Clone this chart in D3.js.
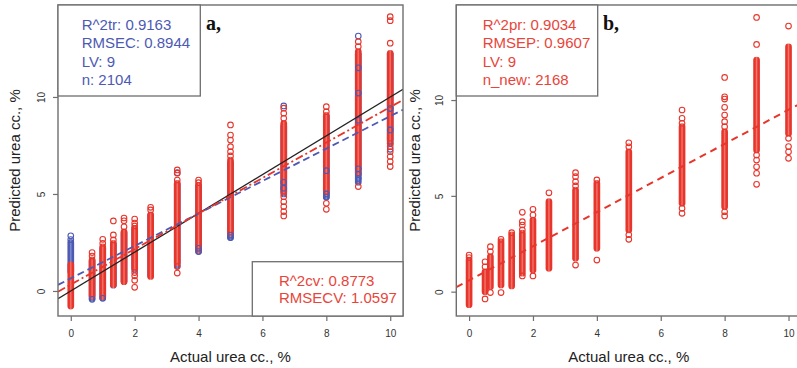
<!DOCTYPE html>
<html>
<head>
<meta charset="utf-8">
<script src="https://cdn.jsdelivr.net/npm/d3@7"></script>
<style>
  body { margin: 0; background: #fff; }
  svg { display: block; font-family: "Liberation Sans", Arial, sans-serif; }
</style>
</head>
<body>
<svg id="chart" width="797" height="368"></svg>
<script>
// actual urea concentrations of the sample groups (x positions of the columns)
const levelsA = [0, 0.667, 1, 1.333, 1.667, 2, 2.5, 3.333, 4, 5, 6.667, 8, 9, 10];
const levelsB = [0, 0.5, 0.667, 1, 1.333, 1.667, 2, 2.5, 3.333, 4, 5, 6.667, 8, 9, 10];

// panel a, cross-validated predictions (red): dense run of each column + single circles
const cvLo = [-0.78, -0.25, -0.28, 0.32, 0.48, 1.17, 0.75, 1.45, 2.12, 2.98, 5.12, 5.05, 6.08, 7.8];
const cvHi = [1.35, 1.6, 2.28, 2.46, 3.05, 3.22, 3.92, 5.55, 5.45, 6.75, 8.64, 9.05, 12.34, 12.25];
const cvPts = [
  [],
  [1.98, 1.8],
  [2.66, 2.46],
  [3.61, 2.89, 2.63],
  [3.76, 3.62, 3.31],
  [3.71, 3.5, 3.35, 0.95, 0.78, 0.55, 0.19],
  [4.31, 4.18],
  [6.24, 6.07, 5.72, 1.26, 0.92],
  [5.72, 5.58],
  [8.56, 8.04, 7.78, 7.44, 7.18, 6.96],
  [9.42, 9.16, 8.9, 4.86, 4.6, 4.35, 4.09, 3.87],
  [9.5, 9.24, 4.52, 4.21],
  [12.85, 12.6, 5.38],
  [14.14, 13.93, 12.77, 7.6, 7.44, 7.18, 6.93, 6.67, 6.41]
];

// panel a, calibration fit (blue)
const calLo = [1.0, -0.38, -0.35, 0.3, 0.5, 1.1, 0.8, 1.3, 2.05, 2.75, 5.0, 4.85, 5.6, 7.6];
const calHi = [2.5, 1.55, 2.2, 2.4, 3.0, 3.2, 3.9, 5.5, 5.4, 6.6, 8.5, 9.0, 12.2, 12.2];
const calPts = [
  [2.84, 2.65],
  [-0.43],
  [-0.38],
  [],
  [],
  [],
  [],
  [6.1],
  [2.03, 2.2],
  [2.75, 2.88],
  [9.54, 5.6, 5.3],
  [5.0, 4.85, 6.2],
  [13.14, 11.5, 10.2, 8.8, 6.3, 6.0, 5.8],
  [9.4, 8.3, 7.3]
];

// panel b, predictions of the new samples (red)
const testLo = [-0.68, 0.0, 0.26, 0.35, 0.3, 0.96, 1.13, 1.22, 1.74, 2.26, 3.22, 4.61, 4.43, 7.39, 8.26];
const testHi = [1.65, 1.04, 1.83, 2.61, 2.96, 3.05, 3.74, 4.7, 5.3, 5.65, 7.3, 8.61, 8.35, 12.09, 12.78];
const testPts = [
  [1.91, 1.78],
  [1.56, 1.3, -0.38],
  [2.35, 2.09, -0.05],
  [2.73, -0.05],
  [3.08],
  [4.14, 3.65, 3.48, 3.22, 0.82],
  [4.3, 4.0, 0.82],
  [5.16],
  [6.21, 6.0, 5.74, 5.52, 1.39],
  [5.83, 1.65],
  [7.77, 7.56, 2.97, 2.73],
  [9.48, 9.05, 8.79, 4.35, 4.09],
  [11.18, 10.17, 10.05, 9.62, 9.22, 8.87, 8.61, 4.17, 3.95],
  [14.31, 12.9, 7.13, 6.87, 6.52, 6.18, 5.6],
  [13.86, 8.0, 7.57, 7.3, 6.96]
];

// regression lines [intercept, slope]
const fitCal = [0.65, 0.836];
const fitCv = [0.33, 0.915];
const fitTest = [0.59, 0.89];

const xTicks = [0, 2, 4, 6, 8, 10];
const yTicks = [0, 5, 10];

const statsA = ["R^2tr: 0.9163", "RMSEC: 0.8944", "LV: 9", "n: 2104"];
const statsCv = ["R^2cv: 0.8773", "RMSECV: 1.0597"];
const statsB = ["R^2pr: 0.9034", "RMSEP: 0.9607", "LV: 9", "n_new: 2168"];

const RED = "#e8352c", BLUE = "#4c5ab4", GREY = "#6e6e6e";
const R = 2.8, SW = 1.1;

const svg = d3.select("#chart");
const defs = svg.append("defs");

// dense runs of overlapping open circles: coloured edges, slightly lighter middle
function bandFill(id, edge, mid) {
  const gr = defs.append("linearGradient").attr("id", id)
    .attr("x1", "0%").attr("x2", "100%").attr("y1", "0%").attr("y2", "0%");
  gr.append("stop").attr("offset", "0%").attr("stop-color", edge);
  gr.append("stop").attr("offset", "30%").attr("stop-color", edge);
  gr.append("stop").attr("offset", "50%").attr("stop-color", mid);
  gr.append("stop").attr("offset", "70%").attr("stop-color", edge);
  gr.append("stop").attr("offset", "100%").attr("stop-color", edge);
}
bandFill("band-red", RED, "#f07a70");
bandFill("band-blue", BLUE, "#8a92cf");

function columns(g, levels, lo, hi, pts, color, fillId, x, y, what) {
  if (what !== "points") {
    g.append("g").selectAll("rect")
      .data(levels.map((lv, i) => ({ lv, lo: lo[i], hi: hi[i] })))
      .join("rect")
        .attr("x", d => x(d.lv) - R - SW / 2)
        .attr("width", 2 * R + SW)
        .attr("y", d => y(d.hi) - R - SW / 2)
        .attr("height", d => y(d.lo) - y(d.hi) + 2 * R + SW)
        .attr("rx", R + SW / 2)
        .attr("fill", `url(#${fillId})`);
  }
  if (what !== "bands") {
    g.append("g").selectAll("circle")
      .data(levels.flatMap((lv, i) => pts[i].map(v => ({ lv, v }))))
      .join("circle")
        .attr("cx", d => x(d.lv))
        .attr("cy", d => y(d.v))
        .attr("r", R)
        .attr("fill", "none")
        .attr("stroke", color)
        .attr("stroke-width", SW);
  }
}

function abline(g, fit, x, y, color, dash, width) {
  const [x0, x1] = x.domain();
  g.append("line")
    .attr("x1", x(x0)).attr("x2", x(x1))
    .attr("y1", y(fit[0] + fit[1] * x0))
    .attr("y2", y(fit[0] + fit[1] * x1))
    .attr("stroke", color)
    .attr("stroke-width", width)
    .attr("stroke-dasharray", dash);
}

function legendBox(g, x0, y0, x1, y1, lines, color, tx, ty, step) {
  g.append("rect")
    .attr("x", x0).attr("y", y0)
    .attr("width", x1 - x0).attr("height", y1 - y0)
    .attr("fill", "#fff")
    .attr("stroke", GREY)
    .attr("stroke-width", 1.3);
  g.selectAll(null).data(lines).join("text")
    .attr("x", tx)
    .attr("y", (d, i) => ty + i * step)
    .attr("fill", color)
    .style("font-size", "15px")
    .text(d => d);
}

function panel(p) {
  const g = svg.append("g");
  const x = d3.scaleLinear().domain([-0.4, 10.4]).range([p.left, p.right]);
  const y = d3.scaleLinear().domain(p.yDomain).range([p.bottom, p.top]);

  const clipId = "clip-" + p.name;
  defs.append("clipPath").attr("id", clipId)
    .append("rect")
      .attr("x", p.left).attr("y", p.top)
      .attr("width", p.right - p.left).attr("height", p.bottom - p.top);

  const plot = g.append("g").attr("clip-path", `url(#${clipId})`);
  p.draw(plot, x, y);

  // frame
  g.append("rect")
    .attr("x", p.left).attr("y", p.top)
    .attr("width", p.right - p.left).attr("height", p.bottom - p.top)
    .attr("fill", "none")
    .attr("stroke", GREY)
    .attr("stroke-width", 1.4);

  const xAxis = g.append("g")
    .attr("transform", `translate(0,${p.bottom})`)
    .call(d3.axisBottom(x).tickValues(xTicks).tickSize(5).tickPadding(9).tickFormat(d3.format("d")));
  const yAxis = g.append("g")
    .attr("transform", `translate(${p.left},0)`)
    .call(d3.axisLeft(y).tickValues(yTicks).tickSize(5).tickFormat(d3.format("d")));

  [xAxis, yAxis].forEach(a => {
    a.select(".domain").remove();
    a.selectAll(".tick line").attr("stroke", GREY).attr("stroke-width", 1.2);
    a.selectAll("text").attr("fill", "#333").style("font-size", "10px")
      .style("font-family", "'Liberation Sans', Arial, sans-serif");
  });
  yAxis.selectAll("text")
    .attr("transform", "rotate(-90)")
    .attr("x", 0).attr("y", -13.5).attr("dy", null)
    .attr("text-anchor", "middle");

  g.append("text")
    .attr("x", (p.left + p.right) / 2)
    .attr("y", 361.5)
    .attr("text-anchor", "middle")
    .attr("fill", "#222")
    .style("font-size", "15px")
    .text("Actual urea cc., %");

  g.append("text")
    .attr("transform", `translate(${p.titleX},${(p.top + p.bottom) / 2}) rotate(-90)`)
    .attr("text-anchor", "middle")
    .attr("fill", "#222")
    .style("font-size", "15px")
    .text("Predicted urea cc., %");

  p.legends(g);

  g.append("text")
    .attr("x", p.letterX).attr("y", 30)
    .attr("fill", "#111")
    .style("font-family", "'Liberation Serif', 'Times New Roman', serif")
    .style("font-size", "20px")
    .style("font-weight", "bold")
    .text(p.name + ",");
}

panel({
  name: "a", left: 58, right: 403, top: 5, bottom: 316,
  yDomain: [-1.29, 14.74], titleX: 20.3, letterX: 206,
  draw(plot, x, y) {
    columns(plot, levelsA, calLo, calHi, calPts, BLUE, "band-blue", x, y, "bands");
    columns(plot, levelsA, cvLo, cvHi, cvPts, RED, "band-red", x, y, "bands");
    columns(plot, levelsA, calLo, calHi, calPts, BLUE, "band-blue", x, y, "points");
    columns(plot, levelsA, cvLo, cvHi, cvPts, RED, "band-red", x, y, "points");
    abline(plot, [0, 1], x, y, "#222", null, 1.3);
    abline(plot, fitCal, x, y, BLUE, "7,4", 1.8);
    abline(plot, fitCv, x, y, RED, "8,3,2,3", 1.8);
  },
  legends(g) {
    legendBox(g, 58, 5, 200.3, 96, statsA, BLUE, 81.7, 29.5, 18.6);
    legendBox(g, 252.3, 261.7, 403, 316, statsCv, "#e8453a", 279, 285.5, 17);
  }
});

panel({
  name: "b", left: 456.3, right: 801.3, top: 5, bottom: 316,
  yDomain: [-1.27, 14.96], titleX: 420, letterX: 603,
  draw(plot, x, y) {
    columns(plot, levelsB, testLo, testHi, testPts, RED, "band-red", x, y, "both");
    abline(plot, fitTest, x, y, RED, "7,5", 2);
  },
  legends(g) {
    legendBox(g, 456.3, 5, 597.7, 96, statsB, "#e8453a", 482.7, 29.5, 18.6);
  }
});
</script>
</body>
</html>
